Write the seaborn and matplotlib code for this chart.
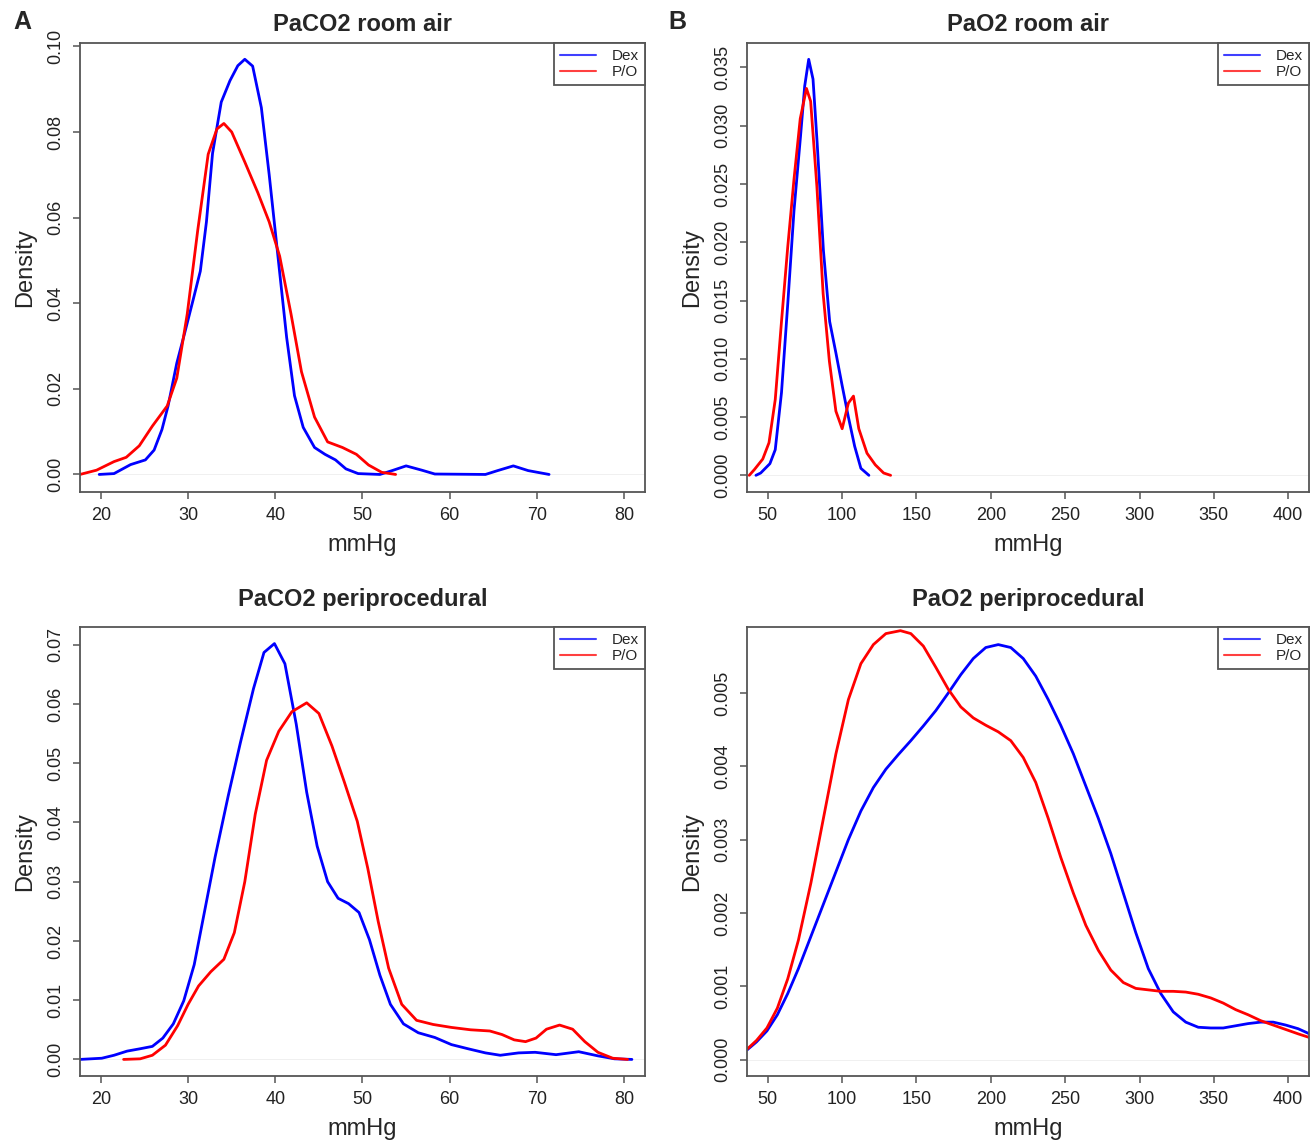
import matplotlib
matplotlib.use('Agg')
import matplotlib.pyplot as plt
import seaborn as sns
import pandas as pd

# A - PaCO2 room air
paco2_air_dex_x = [19.8, 21.5, 23.4, 25.1, 26.1, 27.0, 27.7, 28.7, 29.6, 30.6, 31.4, 32.1, 32.8, 33.8, 34.8,
                   35.7, 36.5, 37.4, 38.4, 39.3, 40.3, 41.3, 42.2, 43.2, 44.5, 45.7, 46.9, 48.1, 49.5, 52.0,
                   53.4, 55.0, 56.8, 58.3, 64.1, 65.5, 67.3, 69.0, 71.4]
paco2_air_dex_y = [0.0, 0.0002, 0.0023, 0.0034, 0.0057, 0.0105, 0.016, 0.026, 0.033, 0.041, 0.0475, 0.059,
                   0.075, 0.087, 0.092, 0.0955, 0.097, 0.0954, 0.0857, 0.070, 0.051, 0.032, 0.0184, 0.011,
                   0.0063, 0.0047, 0.0034, 0.0013, 0.0002, 0.0, 0.0009, 0.002, 0.001, 0.0001, 0.0, 0.0009,
                   0.002, 0.0009, 0.0]
paco2_air_po_x = [17.6, 19.5, 21.5, 22.9, 24.4, 25.9, 27.6, 28.7, 29.9, 31.1, 32.3, 33.3, 34.1, 35.0, 36.5,
                  38.0, 39.3, 40.5, 41.8, 43.0, 44.5, 46.0, 47.7, 49.3, 50.7, 52.2, 53.8]
paco2_air_po_y = [0.0, 0.001, 0.003, 0.004, 0.0067, 0.0113, 0.016, 0.0225, 0.0375, 0.057, 0.0748, 0.0807,
                  0.082, 0.080, 0.073, 0.0658, 0.059, 0.051, 0.0375, 0.024, 0.0134, 0.0076, 0.0063, 0.0047,
                  0.0022, 0.0005, 0.0]

# B - PaO2 room air
pao2_air_dex_x = [42.0, 45.2, 51.4, 55.0, 59.2, 63.4, 67.6, 72.0, 74.8, 77.5, 80.4, 83.2, 87.4, 91.6, 95.8,
                  100.0, 104.2, 108.4, 112.6, 118.0]
pao2_air_dex_y = [0.0, 0.0002, 0.001, 0.0022, 0.0071, 0.0147, 0.0227, 0.0291, 0.0334, 0.0357, 0.034, 0.0285,
                  0.0193, 0.0132, 0.0105, 0.0077, 0.005, 0.0025, 0.0006, 0.0]
pao2_air_po_x = [37.5, 41.0, 46.6, 50.8, 55.0, 59.2, 63.4, 67.6, 71.8, 76.0, 78.8, 83.0, 87.2, 91.4, 95.8,
                 100.0, 104.2, 107.6, 111.2, 116.7, 122.3, 127.9, 132.6]
pao2_air_po_y = [0.0, 0.0005, 0.0014, 0.0028, 0.0065, 0.0132, 0.0196, 0.0254, 0.0306, 0.0332, 0.0321, 0.0248,
                 0.0156, 0.0098, 0.0055, 0.004, 0.0062, 0.0068, 0.004, 0.0019, 0.0009, 0.0002, 0.0]

# C - PaCO2 periprocedural
paco2_peri_dex_x = [17.6, 20.1, 21.5, 23.0, 24.5, 25.9, 27.1, 28.3, 29.5, 30.7, 31.9, 33.1, 34.6, 36.0, 37.5,
                    38.7, 39.9, 41.1, 42.4, 43.6, 44.8, 46.0, 47.2, 48.4, 49.6, 50.8, 52.0, 53.2, 54.7, 56.4,
                    58.3, 60.2, 62.1, 64.1, 65.8, 67.9, 69.8, 72.2, 74.8, 77.0, 78.9, 80.9]
paco2_peri_dex_y = [0.0, 0.0002, 0.0007, 0.0014, 0.0018, 0.0022, 0.0036, 0.006, 0.0099, 0.016, 0.0251, 0.0342,
                    0.0445, 0.0535, 0.0626, 0.0687, 0.0702, 0.0668, 0.0566, 0.0451, 0.036, 0.030, 0.0272,
                    0.0263, 0.0248, 0.0202, 0.0142, 0.0093, 0.006, 0.0045, 0.0037, 0.0025, 0.0018, 0.0011,
                    0.0007, 0.0011, 0.0012, 0.0008, 0.0013, 0.0006, 0.0001, 0.0]
paco2_peri_po_x = [22.6, 24.5, 25.9, 27.4, 28.8, 30.0, 31.2, 32.6, 34.1, 35.3, 36.5, 37.7, 39.0, 40.4, 41.9,
                   43.6, 45.0, 46.5, 47.9, 49.4, 50.6, 51.8, 53.0, 54.5, 56.2, 58.1, 60.2, 62.4, 64.6, 66.0,
                   67.4, 68.7, 69.9, 71.1, 72.6, 74.1, 75.5, 77.0, 78.7, 80.4]
paco2_peri_po_y = [0.0, 0.0001, 0.0007, 0.0024, 0.0057, 0.0093, 0.0124, 0.0148, 0.0169, 0.0214, 0.030, 0.0414,
                   0.0505, 0.0554, 0.0587, 0.0602, 0.0584, 0.0529, 0.0469, 0.0402, 0.0323, 0.0233, 0.0154,
                   0.0093, 0.0066, 0.0059, 0.0054, 0.005, 0.0048, 0.0042, 0.0033, 0.003, 0.0036, 0.0051,
                   0.0058, 0.0051, 0.003, 0.0012, 0.0002, 0.0]

# D - PaO2 periprocedural
pao2_peri_dex_x = [36.0, 42.4, 49.4, 56.4, 63.4, 70.6, 79.0, 87.4, 95.8, 104.2, 112.6, 121.0, 129.4, 137.8,
                   146.2, 154.6, 163.0, 171.4, 179.8, 188.2, 196.6, 205.0, 213.4, 221.8, 230.2, 238.6, 247.0,
                   255.5, 263.9, 272.3, 280.7, 289.1, 297.5, 305.9, 314.3, 322.7, 331.1, 339.5, 347.9, 356.3,
                   364.7, 373.1, 381.5, 389.9, 398.3, 406.7, 414.3]
pao2_peri_dex_y = [0.00013, 0.00024, 0.00039, 0.00061, 0.0009, 0.00124, 0.00168, 0.00212, 0.00256, 0.003,
                   0.00339, 0.00371, 0.00396, 0.00416, 0.00435, 0.00455, 0.00476, 0.005, 0.00525, 0.00547,
                   0.00562, 0.00566, 0.00562, 0.00547, 0.00523, 0.00491, 0.00456, 0.00417, 0.00373, 0.00329,
                   0.00281, 0.00227, 0.00173, 0.00124, 0.0009, 0.00065, 0.00051, 0.00044, 0.00043, 0.00043,
                   0.00046, 0.00049, 0.00051, 0.00051, 0.00047, 0.00042, 0.00035]
pao2_peri_po_x = [36.0, 42.4, 49.4, 56.4, 63.4, 70.6, 79.0, 87.4, 95.8, 104.2, 112.6, 121.0, 129.4, 139.2,
                  146.2, 154.6, 163.0, 171.4, 179.8, 188.2, 196.6, 205.0, 213.4, 221.8, 230.2, 238.6, 247.0,
                  255.5, 263.9, 272.3, 280.7, 289.1, 297.5, 305.9, 314.3, 322.7, 331.1, 339.5, 347.9, 356.3,
                  364.7, 373.1, 381.5, 389.9, 398.3, 406.7, 414.3]
pao2_peri_po_y = [0.00014, 0.00026, 0.00043, 0.0007, 0.0011, 0.00163, 0.00241, 0.00329, 0.00417, 0.00491,
                  0.0054, 0.00566, 0.00581, 0.00585, 0.00581, 0.00564, 0.00535, 0.00505, 0.00481, 0.00466,
                  0.00456, 0.00447, 0.00435, 0.00412, 0.00378, 0.00329, 0.00276, 0.00227, 0.00183, 0.00149,
                  0.00122, 0.00105, 0.00097, 0.00095, 0.00093, 0.00093, 0.00092, 0.00089, 0.00084, 0.00077,
                  0.00068, 0.00061, 0.00053, 0.00047, 0.00041, 0.00035, 0.0003]

groups = ['Dex', 'P/O']
palette = {'Dex': '#0000ff', 'P/O': '#ff0000'}

co2_ticks = [20, 30, 40, 50, 60, 70, 80]
o2_ticks = [50, 100, 150, 200, 250, 300, 350, 400]

sns.set_theme(style='ticks')
plt.rcParams['font.family'] = ['Liberation Sans', 'DejaVu Sans']

W, H = 1314, 1143
fig = plt.figure(figsize=(W / 100, H / 100), dpi=100)
fig.patch.set_facecolor('white')

FRAME = '#555555'


def make_axes(x0, y0, x1, y1):
    """Axes from pixel box (top-left origin)."""
    return fig.add_axes([x0 / W, 1 - y1 / H, (x1 - x0) / W, (y1 - y0) / H])


def draw_panel(ax, dex_x, dex_y, po_x, po_y, title, xlim, ylim, xticks, yticks, yfmt, title_pad):
    df = pd.DataFrame({
        'mmHg': list(dex_x) + list(po_x),
        'Density': list(dex_y) + list(po_y),
        'group': ['Dex'] * len(dex_x) + ['P/O'] * len(po_x),
    })
    ax.axhline(0, color='#eeeeee', lw=0.6, zorder=0)
    sns.lineplot(data=df, x='mmHg', y='Density', hue='group', hue_order=groups,
                 palette=palette, sort=False, estimator=None, linewidth=2.0, ax=ax)
    ax.set_xlim(*xlim)
    ax.set_ylim(*ylim)
    ax.set_xticks(xticks)
    ax.set_yticks(yticks)
    ax.set_yticklabels([yfmt.format(v) for v in yticks])
    ax.tick_params(axis='both', direction='out', length=5, width=1.1, color=FRAME,
                   labelsize=13, labelcolor='#222222', pad=6)
    ax.tick_params(axis='y', labelrotation=90)
    for lab in ax.get_yticklabels():
        lab.set_va('center')
    for sp in ax.spines.values():
        sp.set_visible(True)
        sp.set_color(FRAME)
        sp.set_linewidth(1.3)
    ax.set_title(title, fontsize=17, fontweight='bold', pad=title_pad)
    ax.set_xlabel('mmHg', fontsize=17, labelpad=7)
    ax.set_ylabel('Density', fontsize=17, labelpad=8)
    handles, labels = ax.get_legend_handles_labels()
    leg = ax.legend(handles, labels, loc='upper right', borderaxespad=0, fancybox=False,
                    framealpha=1, edgecolor=FRAME, fontsize=11, handlelength=2.4,
                    handletextpad=1.0, borderpad=0.4, labelspacing=0.12)
    leg.get_frame().set_linewidth(1.3)
    for line in leg.get_lines():
        line.set_linewidth(1.5)
        line.set_alpha(0.75)


axA = make_axes(80, 43, 645, 492)
draw_panel(axA, paco2_air_dex_x, paco2_air_dex_y, paco2_air_po_x, paco2_air_po_y,
           'PaCO2 room air', (17.6, 82.4), (-0.0041, 0.1008), co2_ticks,
           [0.0, 0.02, 0.04, 0.06, 0.08, 0.10], '{:.2f}', 9)

axB = make_axes(747, 43, 1309, 492)
draw_panel(axB, pao2_air_dex_x, pao2_air_dex_y, pao2_air_po_x, pao2_air_po_y,
           'PaO2 room air', (36, 414), (-0.00143, 0.0371), o2_ticks,
           [0.0, 0.005, 0.010, 0.015, 0.020, 0.025, 0.030, 0.035], '{:.3f}', 9)

axC = make_axes(80, 627, 645, 1076)
draw_panel(axC, paco2_peri_dex_x, paco2_peri_dex_y, paco2_peri_po_x, paco2_peri_po_y,
           'PaCO2 periprocedural', (17.6, 82.4), (-0.0028, 0.073), co2_ticks,
           [0.0, 0.01, 0.02, 0.03, 0.04, 0.05, 0.06, 0.07], '{:.2f}', 15)

axD = make_axes(747, 627, 1309, 1076)
draw_panel(axD, pao2_peri_dex_x, pao2_peri_dex_y, pao2_peri_po_x, pao2_peri_po_y,
           'PaO2 periprocedural', (36, 414), (-0.000225, 0.0059), o2_ticks,
           [0.0, 0.001, 0.002, 0.003, 0.004, 0.005], '{:.3f}', 15)

fig.text(22 / W, 1 - 22 / H, 'A', fontsize=18, fontweight='bold', ha='center', va='center')
fig.text(677 / W, 1 - 22 / H, 'B', fontsize=18, fontweight='bold', ha='center', va='center')

fig.savefig('out.png', dpi=100, facecolor='white')
